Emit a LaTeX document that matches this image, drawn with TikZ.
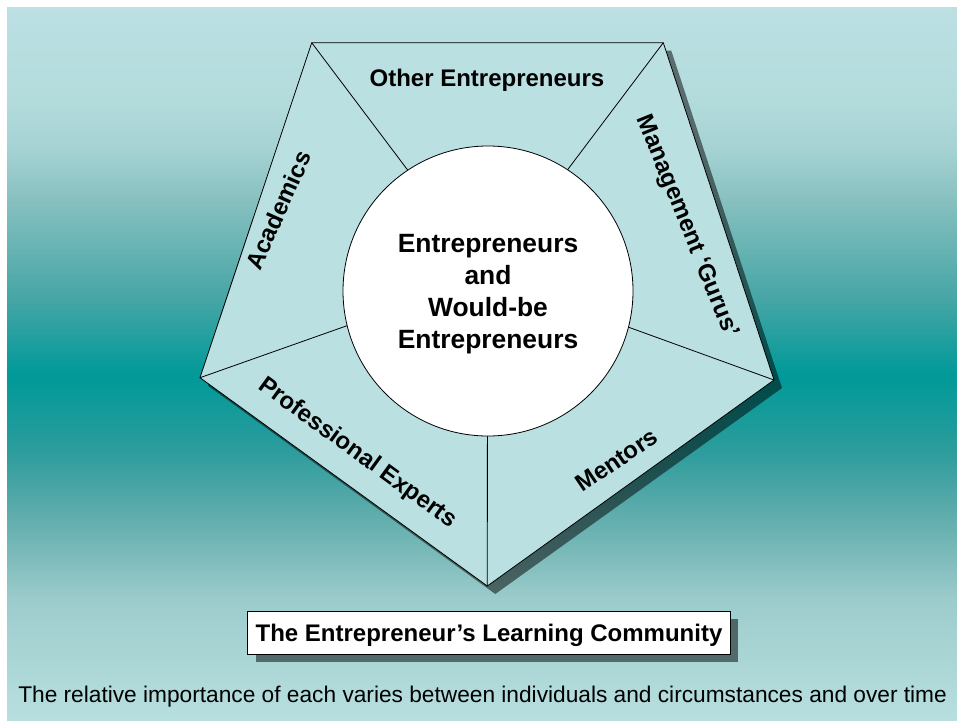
\documentclass[tikz,border=0pt]{standalone}
\usepackage{fontspec}
\setmainfont{Liberation Sans}
\usetikzlibrary{shadows}
\definecolor{pent}{RGB}{186,224,226}
\pgfdeclareverticalshading{bgshade}{100bp}{%
rgb(0bp)=(0.722,0.875,0.878);
rgb(25bp)=(0.722,0.875,0.878);
rgb(33.42bp)=(0.616,0.8,0.8);
rgb(36.22bp)=(0.502,0.737,0.737);
rgb(40.43bp)=(0.333,0.659,0.659);
rgb(43.93bp)=(0.173,0.612,0.612);
rgb(49.19bp)=(0,0.6,0.6);
rgb(54.45bp)=(0.27,0.647,0.647);
rgb(61.47bp)=(0.533,0.753,0.753);
rgb(64.97bp)=(0.647,0.824,0.827);
rgb(68.48bp)=(0.702,0.859,0.863);
rgb(75bp)=(0.737,0.878,0.89);
rgb(100bp)=(0.737,0.878,0.89)}
\tikzset{
  edgeline/.style={draw=black, line width=0.8pt},
  lab/.style={font=\fontsize{24}{28}\selectfont\bfseries, inner sep=0pt},
  myshadow/.style={drop shadow={shadow xshift=8pt, shadow yshift=-8pt, fill=black, opacity=0.5}},
}
\begin{document}
\begin{tikzpicture}[x=1pt,y=-1pt]
\useasboundingbox (0,0) rectangle (957,720);
\fill[white] (0,0) rectangle (957,720);
\shade[shading=bgshade] (7,7) rectangle (957,720);
% pentagon vertices
\coordinate (A) at (311.7,42.7);
\coordinate (B) at (663.3,42.7);
\coordinate (C) at (774,380);
\coordinate (D) at (487.3,586);
\coordinate (E) at (200,377.7);
\coordinate (pc) at (487.5,276);
\filldraw[fill=pent, edgeline, line join=miter, myshadow] (A) -- (B) -- (C) -- (D) -- (E) -- cycle;
\draw[edgeline] (A) -- (pc) (B) -- (pc) (C) -- (pc) (E) -- (pc) (D) -- (pc);
\node[circle, draw, line width=0.8pt, fill=white, minimum size=290, inner sep=0pt] (hub) at (488,291) {};
\node[font=\fontsize{26.4}{31.7}\selectfont\bfseries, align=center, inner sep=0pt] (hubtext) at (488,294.2) {Entrepreneurs\\and\\Would-be\\Entrepreneurs};
% segment labels
\node[lab, anchor=base] (other) at (487,86.7) {Other Entrepreneurs};
\node[lab, rotate=66] (acad) at (278.3,210) {Academics};
\node[lab, rotate=-68] (mgmt) at (686.7,226.7) {Management ‘Gurus’};
\node[lab, rotate=-36] (prof) at (357.3,453.3) {Professional Experts};
\node[lab, rotate=34] (ment) at (616.7,460) {Mentors};
% title box
\node[draw, line width=0.8pt, fill=white, myshadow, minimum width=482.9, minimum height=42.9, inner sep=0pt, text height=17pt, text depth=0pt, font=\fontsize{24}{28}\selectfont\bfseries] (title) at (489,632.9) {The Entrepreneur’s Learning Community};
% footnote
\node[anchor=base, inner sep=0pt, font=\fontsize{22.7}{26}\selectfont] (note) at (482.6,702) {The relative importance of each varies between individuals and circumstances and over time};
\end{tikzpicture}
\end{document}
